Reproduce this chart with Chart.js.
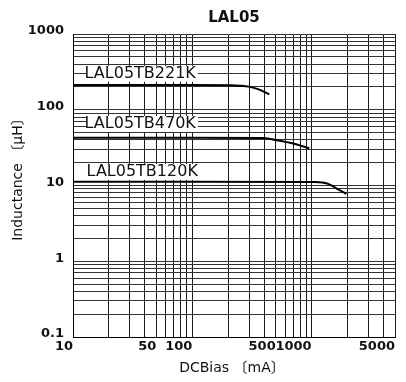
<!DOCTYPE html>
<html>
<head>
<meta charset="utf-8">
<script src="https://cdn.jsdelivr.net/npm/chart.js@4/dist/chart.umd.min.js"></script>
<style>
html,body{margin:0;padding:0;background:#fff;}
canvas{display:block;}
</style>
</head>
<body>
<canvas id="c" width="406" height="382"></canvas>
<script>
// ---- text ----
const chartTitle = 'LAL05';
const xAxisTitle = 'DCBias 〔mA〕';
const yAxisTitle = 'Inductance 〔μH〕';
const seriesNames = ['LAL05TB221K', 'LAL05TB470K', 'LAL05TB120K'];

// ---- axis ticks ----
const xGridValues = [10,20,30,40,50,60,70,80,90,100,200,300,400,500,600,700,800,900,1000,2000,3000,4000,5000];
const xTickLabels = [10,50,100,500,1000,5000];
const yGridValues = [0.1,0.2,0.3,0.4,0.5,0.6,0.7,0.8,0.9,1,2,3,4,5,6,7,8,9,10,20,30,40,50,60,70,80,90,100,200,300,400,500,600,700,800,900,1000];
const yTickLabels = [0.1,1,10,100,1000];

// ---- series (DC bias mA, inductance uH) ----
const current221 = [10, 100, 214, 250, 297, 360, 442];
const induct221  = [212, 212, 211, 208, 202, 186, 160];
const current470 = [10, 100, 381, 496, 727, 957];
const induct470  = [42.8, 42.8, 42.5, 40.0, 35.4, 31.0];
const current120 = [10, 100, 1067, 1377, 1669, 1958];
const induct120  = [11.2, 11.2, 11.1, 10.5, 8.9, 7.75];

// label anchors (data units: left edge of text, vertical centre)
const labelAnchorX = [12.5, 12.5, 13.0];
const labelAnchorY = [297, 65, 15.1];

const FONT = '"DejaVu Sans", "Noto Sans CJK JP", sans-serif';

function toPoints(xs, ys){ return xs.map((x,i)=>({x:x, y:ys[i]})); }

const seriesData = [toPoints(current221, induct221), toPoints(current470, induct470), toPoints(current120, induct120)];

const textPlugin = {
  id: 'texts',
  beforeDraw(chart){
    const ctx = chart.ctx;
    ctx.save();
    ctx.fillStyle = '#fff';
    ctx.fillRect(0,0,chart.width,chart.height);
    ctx.restore();
  },
  afterDraw(chart){
    const ctx = chart.ctx;
    const xs = chart.scales.x, ys = chart.scales.y;
    ctx.save();
    ctx.font = '16px ' + FONT;
    ctx.textBaseline = 'middle';
    ctx.textAlign = 'left';
    seriesNames.forEach((name,i)=>{
      const px = xs.getPixelForValue(labelAnchorX[i]);
      const py = ys.getPixelForValue(labelAnchorY[i]);
      const w = ctx.measureText(name).width;
      ctx.fillStyle = '#fff';
      ctx.fillRect(px+2, py-8, w, 16);
      ctx.fillStyle = '#111';
      ctx.fillText(name, px, py);
    });
    ctx.font = '14px ' + FONT;
    ctx.textAlign = 'center';
    ctx.fillStyle = '#111';
    ctx.fillText(xAxisTitle, (chart.chartArea.left+chart.chartArea.right)/2 - 2, 368);
    ctx.translate(18, 176);
    ctx.rotate(-Math.PI/2);
    ctx.fillText(yAxisTitle, 0, 0);
    ctx.restore();
  }
};

new Chart(document.getElementById('c'), {
  type: 'line',
  data: {
    datasets: seriesNames.map((name,i)=>({
      label: name,
      data: seriesData[i],
      borderColor: '#000',
      borderWidth: 2,
      pointRadius: 0,
      fill: false,
      cubicInterpolationMode: 'monotone'
    }))
  },
  options: {
    responsive: false,
    devicePixelRatio: 1,
    animation: false,
    layout: { padding: { left: 0, right: 11, top: 0, bottom: 0 } },
    plugins: {
      legend: { display: false },
      tooltip: { enabled: false },
      title: {
        display: true,
        text: chartTitle,
        fullSize: false,
        color: '#111',
        font: { family: FONT, size: 15, weight: 'bold' },
        padding: { top: 9, bottom: 7 }
      }
    },
    scales: {
      x: {
        type: 'logarithmic',
        min: 10, max: 5000,
        afterFit(s){ s.height = 45; },
        afterBuildTicks(s){ s.ticks = xGridValues.map(v=>({value:v})); },
        ticks: {
          autoSkip: false, maxRotation: 0, minRotation: 0,
          align: 'end', padding: 2,
          color: '#111',
          font: { family: FONT, size: 13, weight: 'bold' },
          callback: (v)=> xTickLabels.includes(v) ? String(v) : ''
        },
        grid: { color: '#1a1a1a', lineWidth: 1, drawTicks: false },
        border: { display: true, color: '#000', width: 1 }
      },
      y: {
        type: 'logarithmic',
        min: 0.1, max: 1000,
        afterFit(s){ s.width = 73; },
        afterBuildTicks(s){ s.ticks = yGridValues.map(v=>({value:v})); },
        ticks: {
          autoSkip: false,
          padding: 9,
          labelOffset: -3,
          color: '#111',
          font: { family: FONT, size: 13, weight: 'bold' },
          callback: (v)=> yTickLabels.includes(v) ? String(v) : ''
        },
        grid: { color: '#333', lineWidth: 1, drawTicks: false },
        border: { display: true, color: '#000', width: 1 }
      }
    }
  },
  plugins: [textPlugin]
});
</script>
</body>
</html>
